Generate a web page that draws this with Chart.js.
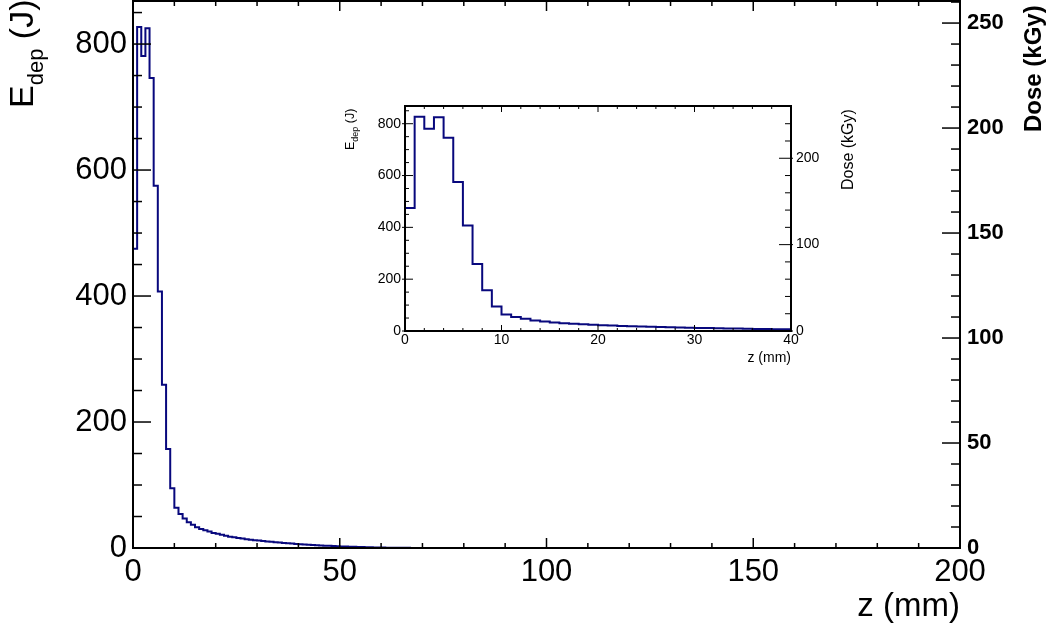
<!DOCTYPE html>
<html>
<head>
  <script src="https://cdn.jsdelivr.net/npm/chart.js"></script>
  <style>
    body { margin: 0; background: #fff; }
    #wrap { position: relative; width: 1048px; height: 632px; }
    #mainChart { position: absolute; left: 0; top: 0; }
    #insetChart { position: absolute; left: 330px; top: 90px; }
  </style>
</head>
<body>
  <div id="wrap">
    <canvas id="mainChart" width="1048" height="632"></canvas>
    <canvas id="insetChart" width="540" height="290"></canvas>
  </div>

  <script>
    // energy deposited per 1 mm bin of z (J), z = 0..200 mm
    const edep = [
      475, 827, 781, 825, 746, 575, 407, 259, 157, 95,
      64, 54, 47, 41, 37, 33, 30, 28, 26, 24,
      22.5, 21, 19.5, 18, 17, 16, 15, 14, 13.2, 12.5,
      12, 11.2, 10.5, 9.8, 9.2, 8.6, 8, 7.5, 7, 6.5,
      6, 5.6, 5.2, 4.8, 4.4, 4, 3.7, 3.4, 3.1, 2.8,
      2.5, 2.2, 2, 1.8, 1.6, 1.4, 1.2, 1, 0.8, 0.7,
      0.6, 0.5, 0.4, 0.3, 0.3, 0.2, 0.2, 0.1, 0.1, 0.1,
      0, 0, 0, 0, 0, 0, 0, 0, 0, 0,
      0, 0, 0, 0, 0, 0, 0, 0, 0, 0,
      0, 0, 0, 0, 0, 0, 0, 0, 0, 0,
      0, 0, 0, 0, 0, 0, 0, 0, 0, 0,
      0, 0, 0, 0, 0, 0, 0, 0, 0, 0,
      0, 0, 0, 0, 0, 0, 0, 0, 0, 0,
      0, 0, 0, 0, 0, 0, 0, 0, 0, 0,
      0, 0, 0, 0, 0, 0, 0, 0, 0, 0,
      0, 0, 0, 0, 0, 0, 0, 0, 0, 0,
      0, 0, 0, 0, 0, 0, 0, 0, 0, 0,
      0, 0, 0, 0, 0, 0, 0, 0, 0, 0,
      0, 0, 0, 0, 0, 0, 0, 0, 0, 0,
      0, 0, 0, 0, 0, 0, 0, 0, 0, 0
    ];
    const binWidth = 1;        // mm
    const doseFactor = 0.3;    // kGy per J
    const zRange = [0, 200];
    const zInset = [0, 40];

    const FONT = "'Liberation Sans', Arial, Helvetica, sans-serif";
    const LINE = 'rgb(8, 8, 125)';
    Chart.defaults.font.family = FONT;
    Chart.defaults.color = '#000';

    const yMax = 1.05 * Math.max(...edep);

    // histogram outline: two points per bin (left and right edge)
    function histPoints(vals, xmax) {
      const pts = [];
      vals.forEach((v, i) => {
        const lo = i * binWidth;
        if (lo >= xmax) return;
        pts.push({ x: lo, y: v }, { x: Math.min(lo + binWidth, xmax), y: v });
      });
      return pts;
    }

    function tickRow(ctx, scale, area, side, step, ratio, majLen, minLen, majOut) {
      const n = Math.round((scale.max - scale.min) / step + 1e-6);
      for (let i = 0; i <= n; i++) {
        const v = scale.min + i * step;
        if (v > scale.max + 1e-9) break;
        const major = i % ratio === 0;
        const len = major ? majLen : minLen;
        const out = major ? (majOut || 0) : 0;
        const p = scale.getPixelForValue(v);
        ctx.beginPath();
        if (side === 'left') { ctx.moveTo(area.left - out, p); ctx.lineTo(area.left + len, p); }
        if (side === 'right') { ctx.moveTo(area.right + out, p); ctx.lineTo(area.right - len, p); }
        if (side === 'bottom') { ctx.moveTo(p, area.bottom + out); ctx.lineTo(p, area.bottom - len); }
        if (side === 'top') { ctx.moveTo(p, area.top); ctx.lineTo(p, area.top + len); }
        ctx.stroke();
      }
    }

    function edepTitle(ctx, x, y, size, sub, shift) {
      ctx.save();
      ctx.translate(x, y);
      ctx.rotate(-Math.PI / 2);
      ctx.fillStyle = '#000';
      ctx.textAlign = 'left';
      ctx.textBaseline = 'alphabetic';
      ctx.font = size + 'px ' + FONT;
      ctx.fillText('E', 0, 0);
      let w = ctx.measureText('E').width;
      ctx.font = sub + 'px ' + FONT;
      ctx.fillText('dep', w, shift);
      w += ctx.measureText('dep').width;
      ctx.font = size + 'px ' + FONT;
      ctx.fillText(' (J)', w, 0);
      ctx.restore();
    }

    function rotText(ctx, text, x, y, font) {
      ctx.save();
      ctx.translate(x, y);
      ctx.rotate(-Math.PI / 2);
      ctx.fillStyle = '#000';
      ctx.textAlign = 'left';
      ctx.textBaseline = 'alphabetic';
      ctx.font = font;
      ctx.fillText(text, 0, 0);
      ctx.restore();
    }

    function fixed(w, h) {
      return function (s) {
        if (w != null) s.width = w;
        if (h != null) s.height = h;
        s.paddingTop = 0; s.paddingBottom = 0; s.paddingLeft = 0; s.paddingRight = 0;
      };
    }

    const noGrid = { display: false, drawTicks: false };
    const noBorder = { display: false };

    // ---------- main chart ----------
    const mainDeco = {
      id: 'mainDeco',
      afterDraw(chart) {
        const ctx = chart.ctx, a = chart.chartArea, s = chart.scales;
        ctx.save();
        ctx.strokeStyle = '#000';
        ctx.lineWidth = 1.5;
        tickRow(ctx, s.y, a, 'left', 50, 4, 18, 9);
        tickRow(ctx, s.y2, a, 'right', 10, 5, 18, 9);
        tickRow(ctx, s.x, a, 'bottom', 10, 5, 10, 5);
        tickRow(ctx, s.x, a, 'top', 10, 5, 10, 5);
        ctx.lineWidth = 2;
        ctx.strokeRect(a.left, a.top, a.right - a.left, a.bottom - a.top);
        ctx.restore();
        edepTitle(ctx, 33, 108, 34, 22, 10);
        rotText(ctx, 'Dose (kGy)', 1041, 132, 'bold 24px ' + FONT);
        ctx.save();
        ctx.fillStyle = '#000';
        ctx.font = '33px ' + FONT;
        ctx.textAlign = 'right';
        ctx.fillText('z (mm)', a.right, 616);
        ctx.restore();
      }
    };

    new Chart(document.getElementById('mainChart'), {
      type: 'line',
      data: {
        datasets: [{
          data: histPoints(edep, zRange[1]),
          borderColor: LINE,
          borderWidth: 2,
          pointRadius: 0,
          fill: false,
          tension: 0
        }]
      },
      options: {
        responsive: false,
        animation: false,
        layout: { padding: { top: 1, left: 0, right: 0, bottom: 0 } },
        plugins: { legend: { display: false }, tooltip: { enabled: false } },
        scales: {
          x: {
            type: 'linear', min: zRange[0], max: zRange[1],
            grid: noGrid, border: noBorder,
            ticks: { stepSize: 50, font: { size: 31 }, padding: 6, maxRotation: 0, autoSkip: false },
            afterFit: fixed(null, 84)
          },
          y: {
            position: 'left', min: 0, max: yMax,
            grid: noGrid, border: noBorder,
            ticks: { stepSize: 200, includeBounds: false, font: { size: 31 }, padding: 6 },
            afterFit: fixed(133, null)
          },
          y2: {
            position: 'right', min: 0, max: yMax * doseFactor,
            grid: noGrid, border: noBorder,
            ticks: { stepSize: 50, includeBounds: false, font: { size: 22, weight: 'bold' }, padding: 7 },
            afterFit: fixed(88, null)
          }
        }
      },
      plugins: [mainDeco]
    });

    // ---------- inset ----------
    const insetDeco = {
      id: 'insetDeco',
      afterDraw(chart) {
        const ctx = chart.ctx, a = chart.chartArea, s = chart.scales;
        const ox = 330, oy = 90;
        ctx.save();
        ctx.strokeStyle = '#000';
        ctx.lineWidth = 1;
        tickRow(ctx, s.y, a, 'left', 50, 4, 8, 4, 3);
        tickRow(ctx, s.y2, a, 'right', 20, 5, 12, 6, 2);
        tickRow(ctx, s.x, a, 'bottom', 2, 5, 6, 3);
        tickRow(ctx, s.x, a, 'top', 2, 5, 6, 3);
        ctx.lineWidth = 2;
        ctx.strokeRect(a.left, a.top, a.right - a.left, a.bottom - a.top);
        ctx.restore();
        edepTitle(ctx, 354 - ox, 150 - oy, 12.5, 9, 3.5);
        rotText(ctx, 'Dose (kGy)', 853 - ox, 190 - oy, '16px ' + FONT);
        ctx.save();
        ctx.fillStyle = '#000';
        ctx.font = '14px ' + FONT;
        ctx.textAlign = 'right';
        ctx.fillText('z (mm)', a.right, 362 - oy);
        ctx.restore();
      }
    };

    new Chart(document.getElementById('insetChart'), {
      type: 'line',
      data: {
        datasets: [{
          data: histPoints(edep, zInset[1]),
          borderColor: LINE,
          borderWidth: 2,
          pointRadius: 0,
          fill: false,
          tension: 0
        }]
      },
      options: {
        responsive: false,
        animation: false,
        layout: { padding: { top: 16, left: 0, right: 0, bottom: 0 } },
        plugins: { legend: { display: false }, tooltip: { enabled: false } },
        scales: {
          x: {
            type: 'linear', min: zInset[0], max: zInset[1],
            grid: noGrid, border: noBorder,
            ticks: { stepSize: 10, font: { size: 14 }, padding: 1, maxRotation: 0, autoSkip: false },
            afterFit: fixed(null, 49)
          },
          y: {
            position: 'left', min: 0, max: yMax,
            grid: noGrid, border: noBorder,
            ticks: { stepSize: 200, includeBounds: false, font: { size: 14 }, padding: 4 },
            afterFit: fixed(75, null)
          },
          y2: {
            position: 'right', min: 0, max: yMax * doseFactor,
            grid: noGrid, border: noBorder,
            ticks: { stepSize: 100, includeBounds: false, font: { size: 14 }, padding: 5 },
            afterFit: fixed(79, null)
          }
        }
      },
      plugins: [insetDeco]
    });
  </script>
</body>
</html>
